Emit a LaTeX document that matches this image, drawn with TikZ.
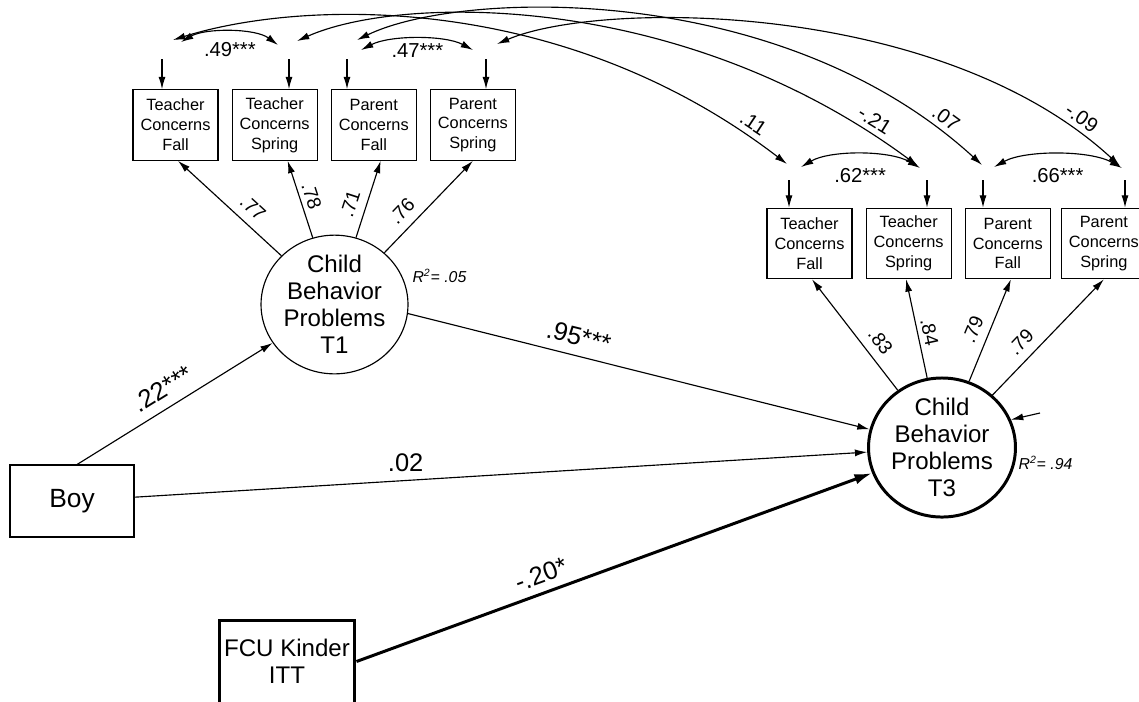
\documentclass[tikz,border=0pt]{standalone}
\usepackage{fontspec}
\setmainfont{Liberation Sans}
\usetikzlibrary{shapes.geometric, arrows.meta, positioning}

\begin{document}
\begin{tikzpicture}[x=0.02cm, y=-0.02cm, line width=0.65pt, >={Latex[length=7pt,width=4pt]},
 ind/.style={draw, align=center, inner sep=0pt, minimum width=1.7cm, minimum height=1.41cm, font=\fontsize{9.3}{11.3}\selectfont},
 lat/.style={draw, ellipse, align=center, inner sep=0pt, minimum width=2.94cm, minimum height=2.7cm, font=\fontsize{13.7}{15.3}\selectfont},
 obs/.style={draw, align=center, inner sep=0pt},
 ld/.style={sloped, above=3.5pt, inner sep=1.5pt, font=\fontsize{11}{12}\selectfont},
 cv/.style={inner sep=1.5pt, font=\fontsize{11.5}{13}\selectfont},
 coef/.style={inner sep=1.5pt, font=\fontsize{14.5}{16}\selectfont},
 rsq/.style={anchor=west, inner sep=0pt, font=\fontsize{9}{10}\selectfont\itshape}]
\useasboundingbox (0,0) rectangle (1139,701);
\clip (0,0) rectangle (1139,701);
\node[ind] (tf1) at (175.5,125) {Teacher\\Concerns\\Fall};
\node[ind, right=0.26cm of tf1] (ts1) {Teacher\\Concerns\\Spring};
\node[ind, right=0.26cm of ts1] (pf1) {Parent\\Concerns\\Fall};
\node[ind, right=0.26cm of pf1] (ps1) {Parent\\Concerns\\Spring};
\node[ind] (tf3) at (809.5,243.5) {Teacher\\Concerns\\Fall};
\node[ind, right=0.26cm of tf3] (ts3) {Teacher\\Concerns\\Spring};
\node[ind, right=0.26cm of ts3] (pf3) {Parent\\Concerns\\Fall};
\node[ind, right=0.2cm of pf3] (ps3) {Parent\\Concerns\\Spring};
\node[lat] (t1) at (334.5,304.5) {Child\\Behavior\\Problems\\T1};
\node[lat, line width=1.7pt] (t3) at (942,447.5) {Child\\Behavior\\Problems\\T3};
\node[obs, minimum width=2.48cm, minimum height=1.44cm, font=\fontsize{15}{17}\selectfont] (boy) at (72,501) {Boy};
\node[obs, line width=1.7pt, minimum width=2.72cm, minimum height=1.66cm, font=\fontsize{13.7}{15.3}\selectfont] (fcu) at (287,661.5) {FCU Kinder\\ITT};
\node[rsq] (r1) at (412,276) {R\textsuperscript{2}= .05};
\node[rsq] (r3) at (1018,463) {R\textsuperscript{2}= .94};
\coordinate (etf1) at (162,59);
\coordinate (ets1) at (289,59);
\coordinate (epf1) at (347,59);
\coordinate (eps1) at (486,59);
\coordinate (etf3) at (789,180);
\coordinate (ets3) at (927,180);
\coordinate (epf3) at (983,180);
\coordinate (eps3) at (1125,180);
\coordinate (d3) at (1040,413);
\coordinate (ctf1) at (173,40);
\coordinate (ctf1b) at (181,42);
\coordinate (cts1b) at (278,45);
\coordinate (cts1) at (297,41);
\coordinate (cpf1) at (357,40);
\coordinate (cpf1b) at (361,50);
\coordinate (cps1b) at (473,50);
\coordinate (cps1) at (497,44);
\coordinate (ctf3) at (787,164);
\coordinate (ctf3b) at (801,167);
\coordinate (cts3b) at (920,168);
\coordinate (cts3) at (918,166);
\coordinate (cpf3) at (982,165);
\coordinate (cpf3b) at (994,167);
\coordinate (cps3b) at (1122,168);
\coordinate (cps3) at (1120,166);
\draw[->] (etf1) -- (etf1 |- tf1.north);
\draw[->] (ets1) -- (ets1 |- ts1.north);
\draw[->] (epf1) -- (epf1 |- pf1.north);
\draw[->] (eps1) -- (eps1 |- ps1.north);
\draw[->] (etf3) -- (etf3 |- tf3.north);
\draw[->] (ets3) -- (ets3 |- ts3.north);
\draw[->] (epf3) -- (epf3 |- pf3.north);
\draw[->] (eps3) -- (eps3 |- ps3.north);
\draw[->] (d3) -- (t3.22);
\draw[->] (t1) -- (tf1.-86) node[ld, pos=.38] {.77};
\draw[->] (t1) -- (ts1.-70) node[ld, pos=.49, above=1pt] {.78};
\draw[->] (t1) -- (pf1.-79) node[ld, pos=.38] {.71};
\draw[->] (t1) -- (ps1.south) node[ld, pos=.33] {.76};
\draw[->] (t3) -- (tf3.-86) node[ld, pos=.35] {.83};
\draw[->] (t3) -- (ts3.-94) node[ld, pos=.44, above=1pt] {.84};
\draw[->] (t3) -- (pf3.-85) node[ld, pos=.45] {.79};
\draw[->] (t3) -- (ps3.south) node[ld, pos=.36] {.79};
\draw[->] (boy.82) -- (t1) node[coef, sloped, pos=.49, above=4pt] {.22***};
\draw[->] (t1.-7) -- (t3) node[coef, sloped, pos=.36, above=4pt] {.95***};
\draw[->] (boy) -- (t3) node[coef, pos=.37, above=3pt] {.02};
\draw[-{Latex[length=10pt,width=6pt]}, line width=1.7pt] (fcu.east) -- (t3) node[coef, sloped, pos=.37, above=3pt] {-.20*};
\draw[<->] (ctf1b) .. controls (205,28) and (255,28) .. (cts1b) node[cv, midway, below=4pt] {.49***};
\draw[<->] (cpf1b) .. controls (390,35) and (445,35) .. (cps1b) node[cv, midway, below=1pt] {.47***};
\draw[<->] (ctf3b) .. controls (830,150) and (890,150) .. (cts3b) node[cv, midway, below=6pt] {.62***};
\draw[<->] (cpf3b) .. controls (1025,150) and (1090,150) .. (cps3b) node[cv, midway, below=6pt] {.66***};
\draw[<->] (ctf1) .. controls (300,0) and (560,-10) .. (ctf3) node[cv, pos=.94, sloped, above=2pt] {.11};
\draw[<->] (cts1) .. controls (400,-5) and (680,-10) .. (cts3) node[cv, pos=.93, sloped, above=2pt] {-.21};
\draw[<->] (cpf1) .. controls (460,-10) and (780,-20) .. (cpf3) node[cv, pos=.93, sloped, above=2pt] {.07};
\draw[<->] (cps1) .. controls (600,0) and (940,0) .. (cps3) node[cv, pos=.92, sloped, above=2pt] {-.09};
\end{tikzpicture}
\end{document}
